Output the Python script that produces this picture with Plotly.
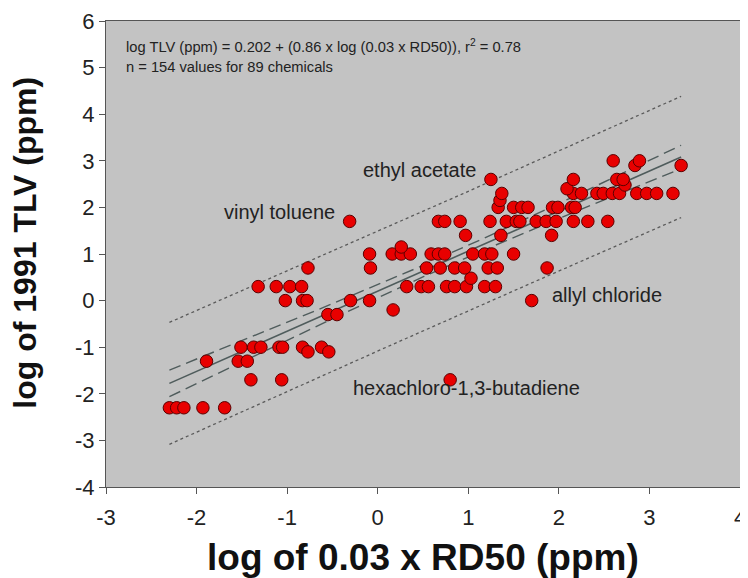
import numpy as np
import plotly.graph_objects as go

# ---- data (log10 values) ----
x_log_rd50 = [
    -2.30, -2.22, -2.14, -1.93, -1.69,                      # -2.3
    -1.40, -1.06, 0.80,                                      # -1.7
    -1.89, -1.54, -1.44,                                     # -1.3
    -1.51, -1.37, -1.29, -1.09, -1.05, -0.83, -0.62,         # -1.0
    -0.77, -0.54,                                            # -1.1
    -0.55, -0.45,                                            # -0.3
    0.17,                                                    # -0.2
    -1.02, -0.83, -0.78, -0.30, -0.09, 1.70,                 # 0.0
    -1.32, -1.12, -0.97, -0.84, 0.32, 0.48, 0.56, 0.76, 0.85, 0.98, 1.18, 1.30,  # 0.3
    1.03,                                                    # 0.48
    -0.77, -0.08, 0.54, 0.69, 0.85, 0.96, 1.22, 1.32, 1.87,  # 0.7
    -0.09, 0.16, 0.26, 0.36, 0.59, 0.67, 0.74, 1.05, 1.18, 1.26, 1.50,  # 1.0
    0.26,                                                    # 1.15
    0.97, 1.36, 1.92,                                        # 1.4
    -0.31, 0.67, 0.74, 0.91, 1.24, 1.42, 1.53, 1.57, 1.75, 1.86, 1.97, 2.16, 2.32, 2.54,  # 1.7
    1.33, 1.50, 1.59, 1.66, 1.93, 1.99, 2.14, 2.18,          # 2.0
    1.35,                                                    # 2.15
    1.37, 2.16, 2.25, 2.42, 2.49, 2.59, 2.67, 2.86, 2.97, 3.08, 3.26,  # 2.3
    2.09,                                                    # 2.4
    2.73,                                                    # 2.48
    1.25, 2.16, 2.64, 2.71,                                  # 2.6
    2.84, 3.35,                                              # 2.9
    2.60, 2.89,                                              # 3.0
]
y_log_tlv = (
    [-2.3] * 5 + [-1.7] * 3 + [-1.3] * 3 + [-1.0] * 7 + [-1.1] * 2 + [-0.3] * 2 +
    [-0.2] * 1 + [0.0] * 6 + [0.3] * 12 + [0.48] * 1 + [0.7] * 9 + [1.0] * 11 +
    [1.15] * 1 + [1.4] * 3 + [1.7] * 14 + [2.0] * 8 + [2.15] * 1 + [2.3] * 11 +
    [2.4] * 1 + [2.48] * 1 + [2.6] * 4 + [2.9] * 2 + [3.0] * 2
)

INTERCEPT = 0.202
SLOPE = 0.86
T_CRIT = 1.976

x_ticks = [-3, -2, -1, 0, 1, 2, 3, 4]
x_tick_labels = ["-3", "-2", "-1", "0", "1", "2", "3", "4"]
y_ticks = [-4, -3, -2, -1, 0, 1, 2, 3, 4, 5, 6]
y_tick_labels = ["-4", "-3", "-2", "-1", "0", "1", "2", "3", "4", "5", "6"]

labels_text = ["ethyl acetate", "vinyl toluene", "allyl chloride", "hexachloro-1,3-butadiene"]
labels_x = [-0.18, -1.72, 1.90, -0.29]
labels_y = [2.80, 1.90, 0.11, -1.87]

eq_line1 = "log TLV (ppm) = 0.202 + (0.86 x log (0.03 x RD50)), r<sup>2</sup> = 0.78"
eq_line2 = "n = 154 values for 89 chemicals"

# ---- regression and bands ----
x = np.array(x_log_rd50)
y = np.array(y_log_tlv)
n = len(x)
resid = y - (INTERCEPT + SLOPE * x)
s = np.sqrt(np.sum(resid ** 2) / (n - 2))
xbar = x.mean()
sxx = np.sum((x - xbar) ** 2)
xs = np.linspace(x.min(), x.max(), 200)
yfit = INTERCEPT + SLOPE * xs
conf = T_CRIT * s * np.sqrt(1.0 / n + (xs - xbar) ** 2 / sxx)
pred = T_CRIT * s * np.sqrt(1.0 + 1.0 / n + (xs - xbar) ** 2 / sxx)

line_col = "#4f5c5c"
dot_col = "#5a5a5a"

fig = go.Figure()
for yy in (yfit + pred, yfit - pred):
    fig.add_trace(go.Scatter(x=xs, y=yy, mode="lines",
                             line=dict(color=dot_col, width=1.3, dash="dot"),
                             hoverinfo="skip", showlegend=False))
for yy in (yfit + conf, yfit - conf):
    fig.add_trace(go.Scatter(x=xs, y=yy, mode="lines",
                             line=dict(color=line_col, width=1.4, dash="12px,6px"),
                             hoverinfo="skip", showlegend=False))
fig.add_trace(go.Scatter(x=xs, y=yfit, mode="lines",
                         line=dict(color=line_col, width=1.6),
                         hoverinfo="skip", showlegend=False))
fig.add_trace(go.Scatter(x=x_log_rd50, y=y_log_tlv, mode="markers",
                         marker=dict(size=12.5, color="#e80000",
                                     line=dict(color="#5a0000", width=1)),
                         showlegend=False))

font_fam = "Liberation Sans, Arial, sans-serif"
annotations = []
for t, ax, ay in zip(labels_text, labels_x, labels_y):
    annotations.append(dict(x=ax, y=ay, xref="x", yref="y", text=t, showarrow=False,
                            xanchor="left", yanchor="middle",
                            font=dict(size=20, color="#222", family=font_fam)))
annotations.append(dict(x=-2.80, y=5.46, xref="x", yref="y", text=eq_line1, showarrow=False,
                        xanchor="left", yanchor="middle",
                        font=dict(size=14.7, color="#222", family=font_fam)))
annotations.append(dict(x=-2.80, y=5.01, xref="x", yref="y", text=eq_line2, showarrow=False,
                        xanchor="left", yanchor="middle",
                        font=dict(size=14.7, color="#222", family=font_fam)))
annotations.append(dict(x=0.5, y=-0.152, xref="paper", yref="paper",
                        text="<b>log of 0.03 x RD50 (ppm)</b>", showarrow=False,
                        xanchor="center", yanchor="middle",
                        font=dict(size=37, color="#111", family=font_fam)))
annotations.append(dict(x=-0.128, y=0.524, xref="paper", yref="paper",
                        text="<b>log of 1991 TLV (ppm)</b>", showarrow=False, textangle=-90,
                        xanchor="center", yanchor="middle",
                        font=dict(size=32, color="#111", family=font_fam)))

axis_common = dict(showline=True, linecolor="#555", linewidth=1, mirror=True,
                   ticks="outside", ticklen=6, tickcolor="#555", showgrid=False,
                   zeroline=False, automargin=False,
                   tickfont=dict(size=22, color="#222", family=font_fam))

# the page body has an 8px default margin, so the figure is 740x570
fig.update_layout(
    width=740, height=570, autosize=False,
    margin=dict(l=98, r=8, t=13, b=91),
    paper_bgcolor="white", plot_bgcolor="#c3c3c3",
    xaxis=dict(range=[-3, 4], tickvals=x_ticks, ticktext=x_tick_labels,
               ticklabelstandoff=5, **axis_common),
    yaxis=dict(range=[-4, 6], tickvals=y_ticks, ticktext=y_tick_labels, **axis_common),
    annotations=annotations,
    font=dict(family=font_fam),
)

fig.write_html("out.html")
